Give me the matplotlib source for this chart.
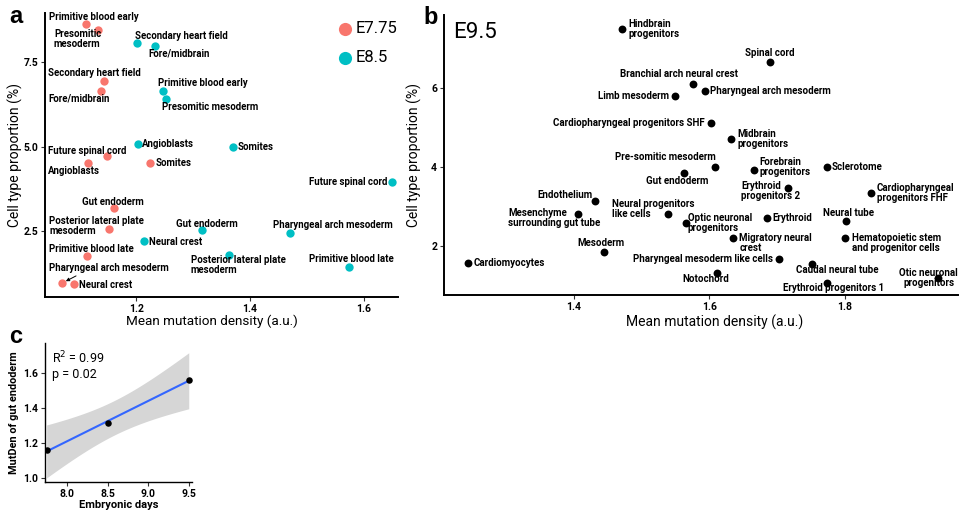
import numpy as np
import matplotlib
matplotlib.use("Agg")
import matplotlib.pyplot as plt

plt.rcParams['font.family'] = ['Roboto', 'DejaVu Sans']

# ---------------- data ----------------
# panel a, E7.75
a_red_labels = ["Primitive blood early", "Presomitic\nmesoderm", "Secondary heart field", "Fore/midbrain",
                "Future spinal cord", "Angioblasts", "Somites", "Gut endoderm",
                "Posterior lateral plate\nmesoderm", "Primitive blood late", "Pharyngeal arch mesoderm",
                "Neural crest"]
a_red_x = [1.112, 1.133, 1.144, 1.139, 1.149, 1.116, 1.225, 1.161, 1.153, 1.114, 1.070, 1.091]
a_red_y = [8.62, 8.45, 6.94, 6.64, 4.73, 4.50, 4.50, 3.18, 2.56, 1.76, 0.96, 0.93]
# panel a, E8.5
a_cyan_labels = ["Secondary heart field", "Fore/midbrain", "Primitive blood early", "Presomitic mesoderm",
                 "Angioblasts", "Somites", "Future spinal cord", "Gut endoderm", "Neural crest",
                 "Posterior lateral plate\nmesoderm", "Pharyngeal arch mesoderm", "Primitive blood late"]
a_cyan_x = [1.202, 1.233, 1.247, 1.253, 1.204, 1.370, 1.649, 1.316, 1.214, 1.363, 1.470, 1.574]
a_cyan_y = [8.06, 7.97, 6.64, 6.41, 5.09, 5.00, 3.95, 2.53, 2.20, 1.79, 2.44, 1.43]
a_series = ["E7.75", "E8.5"]
a_xticks = [1.2, 1.4, 1.6]
a_yticks = [2.5, 5.0, 7.5]

# panel b, E9.5
b_labels = ["Hindbrain\nprogenitors", "Spinal cord", "Branchial arch neural crest", "Pharyngeal arch mesoderm",
            "Limb mesoderm", "Cardiopharyngeal progenitors SHF", "Midbrain\nprogenitors", "Pre-somitic mesoderm",
            "Forebrain\nprogenitors", "Sclerotome", "Gut endoderm", "Erythroid\nprogenitors 2",
            "Cardiopharyngeal\nprogenitors FHF", "Neural tube", "Erythroid", "Optic neuronal\nprogenitors",
            "Neural progenitors\nlike cells", "Endothelium", "Mesenchyme\nsurrounding gut tube",
            "Migratory neural\ncrest", "Hematopoietic stem\nand progenitor cells", "Pharyngeal mesoderm like cells",
            "Caudal neural tube", "Notochord", "Erythroid progenitors 1", "Otic neuronal\nprogenitors",
            "Mesoderm", "Cardiomyocytes"]
b_x = [1.471, 1.689, 1.576, 1.593, 1.549, 1.602, 1.632, 1.608, 1.666, 1.773, 1.562, 1.716,
       1.838, 1.801, 1.685, 1.565, 1.539, 1.431, 1.406, 1.635, 1.800, 1.703, 1.751, 1.611,
       1.773, 1.937, 1.444, 1.244]
b_y = [7.49, 6.66, 6.10, 5.92, 5.80, 5.11, 4.71, 4.00, 3.92, 4.00, 3.85, 3.47,
       3.34, 2.63, 2.71, 2.58, 2.81, 3.14, 2.81, 2.20, 2.20, 1.67, 1.54, 1.32,
       1.06, 1.19, 1.85, 1.57]
b_xticks = [1.4, 1.6, 1.8]
b_yticks = [2, 4, 6]

# panel c
c_days = [7.75, 8.5, 9.5]
c_mutden = [1.16, 1.315, 1.56]
c_xticks = [8.0, 8.5, 9.0, 9.5]
c_yticks = [1.0, 1.2, 1.4, 1.6]

# ---------------- label placement (pixel offsets: dx right, dy down, ha) ----------------
a_red_off = [(-37, -7, 'left'), (-44, 9, 'left'), (-56, -8, 'left'), (-53, 7, 'left'),
             (-59, -5, 'left'), (-40, 8, 'left'), (5, 0, 'left'), (-1, -6, 'center'),
             (-60, -3, 'left'), (-38, -7, 'left'), (-13, -15, 'left'), (5, 1, 'left')]
a_cyan_off = [(-2, -7, 'left'), (-7, 7, 'left'), (-5, -8, 'left'), (-4, 8, 'left'),
              (4, 0, 'left'), (5, 0, 'left'), (-4, 0, 'right'), (5, -6, 'center'), (5, 1, 'left'),
              (-38, 10, 'left'), (43, -8, 'center'), (2, -8, 'center')]
b_off = [(6, 0, 'left'), (0, -9, 'center'), (-14, -10, 'center'), (5, 0, 'left'),
         (-6, 0, 'right'), (-6, 0, 'right'), (6, 0, 'left'), (1, -10, 'right'),
         (5, -3, 'left'), (5, 0, 'left'), (-7, 8, 'center'), (-47, 3, 'left'),
         (6, 0, 'left'), (3, -8, 'center'), (5, 0, 'left'), (2, 0, 'left'),
         (-56, -5, 'left'), (-3, -6, 'right'), (-70, 4, 'left'),
         (6, 5, 'left'), (7, 5, 'left'), (-6, 0, 'right'),
         (26, 6, 'center'), (-11, 6, 'center'), (7, 5, 'center'), (-9, 0, 'center'),
         (-3, -9, 'center'), (5, 0, 'left')]

RED = '#F8766D'
CYAN = '#00BFC4'

fig = plt.figure(figsize=(9.6, 5.12), dpi=100)


def style_axes(ax, lw=1.4):
    for s in ['top', 'right']:
        ax.spines[s].set_visible(False)
    for s in ['left', 'bottom']:
        ax.spines[s].set_linewidth(lw)
        ax.spines[s].set_color('black')
    ax.tick_params(length=3, width=0.8, color='#333333', pad=2)


def px_axes(l, t, r, b):
    return fig.add_axes([l / 960, 1 - b / 512, (r - l) / 960, (b - t) / 512])


# ---------------- panel a ----------------
axa = px_axes(45, 13, 398, 297)
style_axes(axa)
axa.scatter(a_red_x, a_red_y, s=36, color=RED, zorder=3, linewidths=0)
axa.scatter(a_cyan_x, a_cyan_y, s=36, color=CYAN, zorder=3, linewidths=0)
fs_a = 6.9
for lab, x, y, (dx, dy, ha) in zip(a_red_labels, a_red_x, a_red_y, a_red_off):
    if lab == "Pharyngeal arch mesoderm":
        axa.annotate(lab, (x, y), xytext=(dx, -dy), textcoords='offset pixels', ha=ha, va='center',
                     fontsize=fs_a, fontweight='bold', linespacing=1.0,
                     arrowprops=dict(arrowstyle='-|>', lw=0.7, color='black', mutation_scale=5,
                                     relpos=(0.27, 0.0), shrinkA=0, shrinkB=3))
    else:
        axa.annotate(lab, (x, y), xytext=(dx, -dy), textcoords='offset pixels', ha=ha, va='center',
                     fontsize=fs_a, fontweight='bold', linespacing=1.0)
for lab, x, y, (dx, dy, ha) in zip(a_cyan_labels, a_cyan_x, a_cyan_y, a_cyan_off):
    axa.annotate(lab, (x, y), xytext=(dx, -dy), textcoords='offset pixels', ha=ha, va='center',
                 fontsize=fs_a, fontweight='bold', linespacing=1.0)
axa.set_xlim(1.04, 1.66)
axa.set_ylim(0.55, 8.95)
axa.set_xticks(a_xticks)
axa.set_xticklabels([f"{v:.1f}" for v in a_xticks], fontsize=7.5, fontweight='bold')
axa.set_yticks(a_yticks)
axa.set_yticklabels([f"{v:.1f}" for v in a_yticks], fontsize=7.5, fontweight='bold')
axa.set_xlabel("Mean mutation density (a.u.)", fontsize=9.7)
axa.set_ylabel("Cell type proportion (%)", fontsize=10)
axa.xaxis.set_label_coords(0.474, -0.062)
axa.yaxis.set_label_coords(-0.062, 0.5)
hr = axa.scatter([], [], s=90, color=RED, linewidths=0)
hc = axa.scatter([], [], s=90, color=CYAN, linewidths=0)
fig.legend([hr, hc], a_series, loc='upper left', bbox_to_anchor=(326 / 960, 1 - 13 / 512),
           frameon=False, fontsize=12, handletextpad=0.0, labelspacing=0.85, borderpad=0,
           handlelength=1.3)

# ---------------- panel b ----------------
axb = px_axes(444, 15, 958, 295)
style_axes(axb)
axb.scatter(b_x, b_y, s=32, color='black', zorder=3, linewidths=0)
fs_b = 7.0
for lab, x, y, (dx, dy, ha) in zip(b_labels, b_x, b_y, b_off):
    axb.annotate(lab, (x, y), xytext=(dx, -dy), textcoords='offset pixels', ha=ha, va='center',
                 fontsize=fs_b, fontweight='bold', linespacing=1.0)
axb.set_xlim(1.208, 1.967)
axb.set_ylim(0.76, 7.85)
axb.set_xticks(b_xticks)
axb.set_xticklabels([f"{v:.1f}" for v in b_xticks], fontsize=7.5, fontweight='bold')
axb.set_yticks(b_yticks)
axb.set_yticklabels([str(v) for v in b_yticks], fontsize=7.5, fontweight='bold')
axb.set_xlabel("Mean mutation density (a.u.)", fontsize=10)
axb.set_ylabel("Cell type proportion (%)", fontsize=10)
axb.xaxis.set_label_coords(0.527, -0.069)
axb.yaxis.set_label_coords(-0.043, 0.5)
axb.text(0.018, 0.975, "E9.5", transform=axb.transAxes, fontsize=16, ha='left', va='top')

# ---------------- panel c ----------------
axc = px_axes(45, 343, 192, 482)
style_axes(axc, lw=1.0)
xd = np.array(c_days)
yd = np.array(c_mutden)
n = len(xd)
slope, intercept = np.polyfit(xd, yd, 1)
resid = yd - (slope * xd + intercept)
s_err = np.sqrt(np.sum(resid ** 2) / (n - 2))
sxx = np.sum((xd - xd.mean()) ** 2)
tval = 12.706  # t(0.975, df=1)
xx = np.linspace(xd.min(), xd.max(), 100)
yy = slope * xx + intercept
se = s_err * np.sqrt(1 / n + (xx - xd.mean()) ** 2 / sxx)
axc.fill_between(xx, yy - tval * se, yy + tval * se, color='#D6D6D6', linewidth=0, zorder=1)
axc.plot(xx, yy, color='#3366FF', lw=1.5, zorder=2)
axc.scatter(xd, yd, s=22, color='black', zorder=3, linewidths=0)
axc.set_xlim(7.73, 9.54)
axc.set_ylim(0.98, 1.77)
axc.set_xticks(c_xticks)
axc.set_xticklabels([f"{v:.1f}" for v in c_xticks], fontsize=7.5, fontweight='bold')
axc.set_yticks(c_yticks)
axc.set_yticklabels([f"{v:.1f}" for v in c_yticks], fontsize=7.5, fontweight='bold')
axc.set_xlabel("Embryonic days", fontsize=8, fontweight='bold', labelpad=1)
axc.set_ylabel("MutDen of gut endoderm", fontsize=7.8, fontweight='bold', labelpad=3)
axc.text(0.05, 0.95, "R$^2$ = 0.99", transform=axc.transAxes, fontsize=9, ha='left', va='top')
axc.text(0.05, 0.82, "p = 0.02", transform=axc.transAxes, fontsize=9, ha='left', va='top')

# panel letters
fig.text(9 / 960, 1 - 5 / 512, "a", fontsize=17, fontweight='bold', va='top', ha='left',
         family=['Liberation Sans', 'DejaVu Sans'])
fig.text(423 / 960, 1 - 6 / 512, "b", fontsize=17, fontweight='bold', va='top', ha='left',
         family=['Liberation Sans', 'DejaVu Sans'])
fig.text(9 / 960, 1 - 325 / 512, "c", fontsize=17, fontweight='bold', va='top', ha='left',
         family=['Liberation Sans', 'DejaVu Sans'])

fig.savefig("out.png", dpi=100)
